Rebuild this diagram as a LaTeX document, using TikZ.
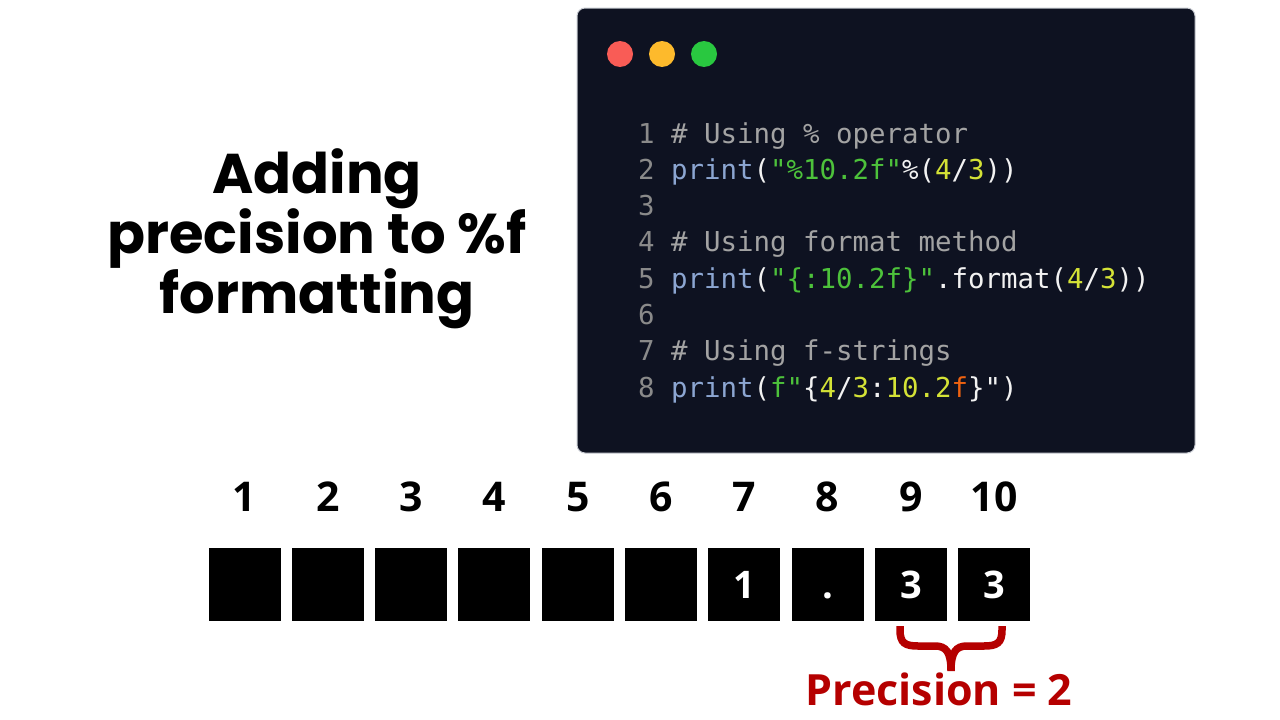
\documentclass[tikz,border=0pt]{standalone}
\usepackage{fontspec}
\usepackage{xcolor}
\setmainfont{Open Sans}
\newfontfamily\titlefont{Poppins}
\newfontfamily\codefont{DejaVu Sans Mono}
\definecolor{codebg}{HTML}{0E1221}
\definecolor{codeedge}{HTML}{C9CCD3}
\definecolor{codegray}{HTML}{8A8A8A}
\definecolor{codecomment}{HTML}{A3A3A3}
\definecolor{codeblue}{HTML}{8CA6D2}
\definecolor{codegreen}{HTML}{4DC23B}
\definecolor{codeyellow}{HTML}{D4E236}
\definecolor{codeorange}{HTML}{EE6210}
\definecolor{codewhite}{HTML}{F2F2F2}
\definecolor{dotred}{HTML}{F95C56}
\definecolor{dotyellow}{HTML}{FDBA2C}
\definecolor{dotgreen}{HTML}{29C840}
\definecolor{precred}{HTML}{B50000}
\newcommand{\lnum}[1]{\textcolor{codegray}{#1}}
\newcommand{\ccom}[1]{\textcolor{codecomment}{#1}}
\newcommand{\ckw}[1]{\textcolor{codeblue}{#1}}
\newcommand{\cstr}[1]{\textcolor{codegreen}{#1}}
\newcommand{\cnum}[1]{\textcolor{codeyellow}{#1}}
\newcommand{\cwht}[1]{\textcolor{codewhite}{#1}}
\newcommand{\corg}[1]{\textcolor{codeorange}{#1}}
\usetikzlibrary{positioning,calc}

\begin{document}
\begin{tikzpicture}[
  x=1pt,y=-1pt,
  titleline/.style={anchor=base,inner sep=0pt,
                    font=\titlefont\bfseries\fontsize{56}{60}\selectfont},
  codeline/.style={anchor=base west,inner sep=0pt,
                   font=\codefont\fontsize{27.4}{30}\selectfont},
  dot/.style={circle,minimum size=26pt,inner sep=0pt},
  cell/.style={fill=black,minimum width=72pt,minimum height=73pt,inner sep=0pt,
               text height=27pt,text depth=0pt,
               text=white,font=\bfseries\fontsize{38}{40}\selectfont},
  cellnum/.style={anchor=base,inner sep=0pt,font=\bfseries\fontsize{41}{44}\selectfont},
]
  \useasboundingbox[fill=white] (0,0) rectangle (1280,720);

  % Title
  \node[titleline] (title1) at (317,193) {Adding};
  \node[titleline] (title2) at (317,253) {precision to \%f};
  \node[titleline] (title3) at (317,313) {formatting};

  % Code panel
  \draw[codeedge,fill=codebg,rounded corners=8pt,line width=1pt]
    (577,8) rectangle (1195,453);
  \node[dot,fill=dotred] (red) at (620,54) {};
  \node[dot,fill=dotyellow] (yellow) at (662,54) {};
  \node[dot,fill=dotgreen] (green) at (704,54) {};

  % Code lines
  \node[codeline] (line1) at (638,143)
    {\lnum{1} \ccom{\# Using \% operator}};
  \node[codeline] (line2) at (638,179.3)
    {\lnum{2} \ckw{print}\cwht{(}\cstr{"\%10.2f"}\cwht{\%(}\cnum{4}\cwht{/}\cnum{3}\cwht{))}};
  \node[codeline] (line3) at (638,215.6) {\lnum{3}};
  \node[codeline] (line4) at (638,251.9)
    {\lnum{4} \ccom{\# Using format method}};
  \node[codeline] (line5) at (638,288.2)
    {\lnum{5} \ckw{print}\cwht{(}\cstr{"\{:10.2f\}"}\cwht{.format(}\cnum{4}\cwht{/}\cnum{3}\cwht{))}};
  \node[codeline] (line6) at (638,324.5) {\lnum{6}};
  \node[codeline] (line7) at (638,360.8)
    {\lnum{7} \ccom{\# Using f-strings}};
  \node[codeline] (line8) at (638,397.1)
    {\lnum{8} \ckw{print}\cwht{(}\cstr{f"}\cwht{\{}\cnum{4}\cwht{/}\cnum{3}\cwht{:}\cnum{10.2}\corg{f}\cwht{\}"}\cwht{)}};

  % Field cells and their positions
  \foreach \i/\ch in {1/,2/,3/,4/,5/,6/,7/1,8/.,9/3,10/3} {
    \node[cell] (b\i) at ({244.5+(\i-1)*83.3},584.5) {\ch};
    \node[cellnum] (n\i) at ({244.5+(\i-1)*83.3},511) {\i};
  }

  % Precision brace
  \draw[precred,line width=7.5pt]
    (900,626) -- (900,630) .. controls (900,643) and (905,646) .. (918,646)
    -- (935,646) .. controls (946,646) and (951,652) .. (951,671)
    .. controls (951,652) and (956,646) .. (967,646)
    -- (984,646) .. controls (997,646) and (1002,643) .. (1002,630) -- (1002,626);
  \node[anchor=base,inner sep=0pt,text=precred,
        font=\bfseries\fontsize{43}{46}\selectfont] (prec) at (939,705) {Precision = 2};
\end{tikzpicture}
\end{document}
